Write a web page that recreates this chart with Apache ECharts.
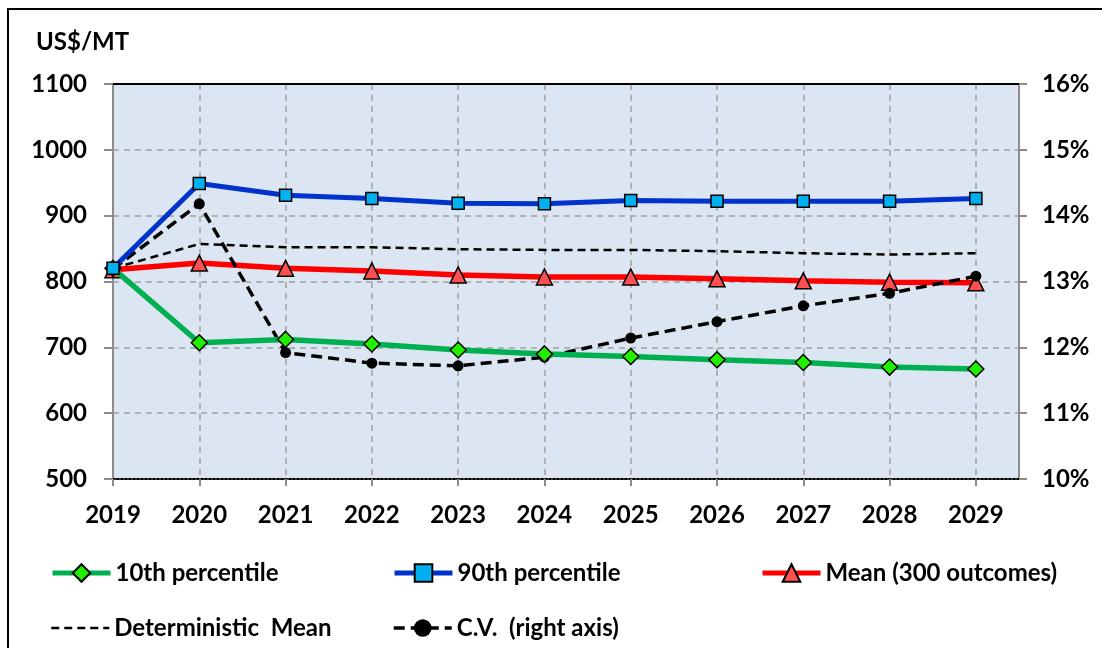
<!DOCTYPE html>
<html><head><meta charset="utf-8">
<script src="https://cdn.jsdelivr.net/npm/echarts@6/dist/echarts.min.js"></script>
<style>html,body{margin:0;padding:0;background:#fff}#c{width:1102px;height:648px}</style>
</head><body><div id="c"></div>
<script>
const years = [2019,2020,2021,2022,2023,2024,2025,2026,2027,2028,2029];
const p10 = [820,707,712,705,696,690,686,681,677,670,667];
const p90 = [820,949,931,926,919,918,923,922,922,922,926];
const meanOut = [818,828,820,816,810,807,807,804,801,799,798];
const detMean = [820,857,852,852,849,848,848,846,843,841,843];
const cvPct = [13.19,14.18,11.92,11.76,11.72,11.85,12.14,12.39,12.63,12.82,13.08];
const names = ['10th percentile','90th percentile','Mean (300 outcomes)','Deterministic  Mean','C.V.  (right axis)'];

const FONT = 'Lato';
const zip = arr => years.map((y,i)=>[y,arr[i]]);
const txt = {fontFamily:FONT,fontWeight:'bold',fontSize:24,color:'#000'};
const gray = '#8c8c8c';

function legend(name, left, top, lw, noSym){
  const l = {data:[name], left:left, top:top, padding:0, itemWidth:58, itemHeight:22, itemGap:0,
    textStyle:Object.assign({},txt), lineStyle:{width:lw}, selectedMode:false};
  if (noSym) l.itemStyle = {color:'rgba(0,0,0,0)', borderWidth:0, opacity:0};
  return l;
}

const chart = echarts.init(document.getElementById('c'), null, {renderer:'canvas'});
chart.setOption({
  animation:false,
  backgroundColor:'#fff',
  title:{text:'US$/MT', left:31, top:25, textStyle:txt},
  graphic:[{type:'rect', shape:{x:8,y:9,width:1300,height:900}, style:{fill:'none',stroke:'#000',lineWidth:2}, z:100}],
  grid:{left:113, right:83, top:84, bottom:169, show:true, backgroundColor:'#dce6f2', borderWidth:0},
  legend:[
    legend(names[0],50,561,5),
    legend(names[1],392,561,5),
    legend(names[2],760,561,5),
    legend(names[3],50,616,2.5,true),
    legend(names[4],392,616,3.5)
  ],
  xAxis:[{
    type:'value', min:2019, max:2029.5, interval:1,
    axisLine:{show:true, onZero:false, lineStyle:{color:'#000', width:2, type:'dotted'}},
    axisTick:{show:true, length:7, customValues:years, lineStyle:{color:gray, width:2}},
    axisLabel:{show:true, margin:24, customValues:years, formatter:v=>String(v), ...txt},
    splitLine:{show:true, lineStyle:{color:'#a0a0a0', width:1.5, type:[6,5]}}
  },{
    type:'value', position:'top', min:2019, max:2029.5,
    axisLine:{show:true, onZero:false, lineStyle:{color:'#000', width:2}},
    axisTick:{show:false}, axisLabel:{show:false}, splitLine:{show:false}
  }],
  yAxis:[{
    type:'value', min:500, max:1100, interval:100, position:'left',
    axisLine:{show:true, onZero:false, lineStyle:{color:gray, width:2}},
    axisTick:{show:true, length:9, lineStyle:{color:gray, width:2}},
    axisLabel:{margin:26, formatter:v=>String(v), ...txt},
    splitLine:{show:true, lineStyle:{color:'#a0a0a0', width:1.5, type:[6,5]}}
  },{
    type:'value', min:10, max:16, interval:1, position:'right',
    axisLine:{show:true, onZero:false, lineStyle:{color:gray, width:2}},
    axisTick:{show:true, length:8, lineStyle:{color:gray, width:2}},
    axisLabel:{margin:23, formatter:v=>v+'%', ...txt},
    splitLine:{show:false}
  }],
  series:[
    {name:names[3], type:'line', data:zip(detMean), z:2, showSymbol:false, symbol:'none',
     lineStyle:{color:'#000', width:2.5, type:[8,5]}, itemStyle:{color:'#000'}},
    {name:names[2], type:'line', data:zip(meanOut), z:3, symbol:'triangle', symbolSize:16,
     lineStyle:{color:'#ff0000', width:5.5}, itemStyle:{color:'#ff5050', borderColor:'#000', borderWidth:1.5}},
    {name:names[4], type:'line', yAxisIndex:1, data:zip(cvPct), z:4, symbol:'circle', symbolSize:11,
     lineStyle:{color:'#000', width:3.5, type:[11,6]}, itemStyle:{color:'#000', borderColor:'#000', borderWidth:0}},
    {name:names[0], type:'line', data:zip(p10), z:5, symbol:'diamond', symbolSize:16,
     lineStyle:{color:'#00b050', width:5.5}, itemStyle:{color:'#22ee00', borderColor:'#000', borderWidth:1.5}},
    {name:names[1], type:'line', data:zip(p90), z:6, symbol:'rect', symbolSize:12,
     lineStyle:{color:'#0033cc', width:5}, itemStyle:{color:'#00b0f0', borderColor:'#000', borderWidth:1.5}}
  ]
});
</script></body></html>
